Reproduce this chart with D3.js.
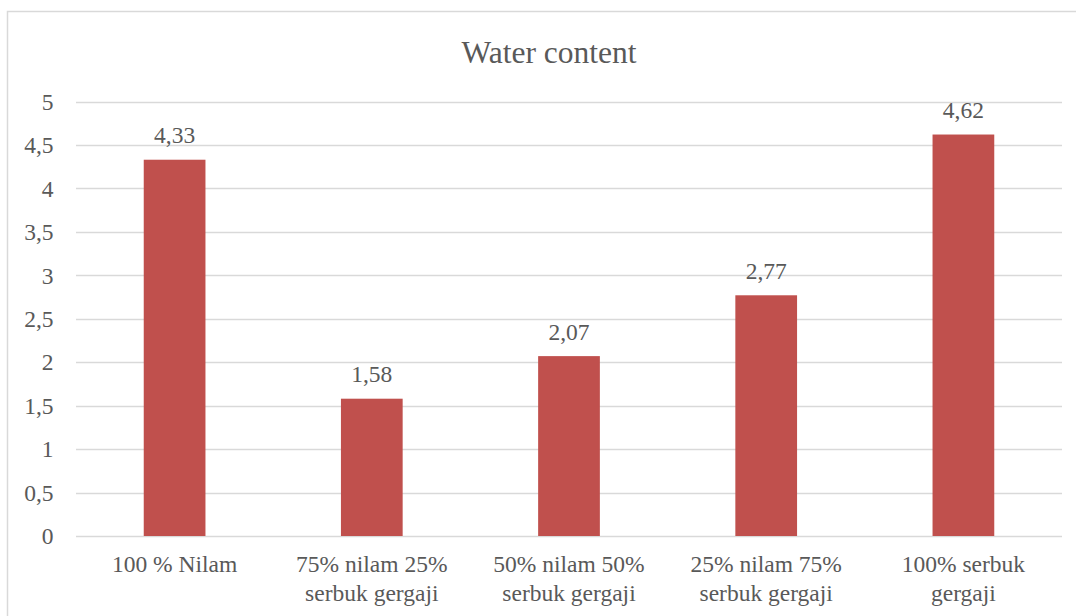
<!DOCTYPE html>
<html>
<head>
<meta charset="utf-8">
<script src="https://cdn.jsdelivr.net/npm/d3@7"></script>
<style>
html,body{margin:0;padding:0;background:#fff;}
svg{display:block;}
</style>
</head>
<body>
<svg id="chart" width="1076" height="616"></svg>
<script>
const categories = [
  ["100 % Nilam"],
  ["75% nilam 25%", "serbuk gergaji"],
  ["50% nilam 50%", "serbuk gergaji"],
  ["25% nilam 75%", "serbuk gergaji"],
  ["100% serbuk", "gergaji"]
];
const values = [4.33, 1.58, 2.07, 2.77, 4.62];
const valueLabels = ["4,33", "1,58", "2,07", "2,77", "4,62"];
const yTicks = [0, 0.5, 1, 1.5, 2, 2.5, 3, 3.5, 4, 4.5, 5];
const yTickLabels = ["0", "0,5", "1", "1,5", "2", "2,5", "3", "3,5", "4", "4,5", "5"];
const title = "Water content";

(function () {
const FONT = "Liberation Serif";
const TXT = "#595959";
const svg = d3.select("#chart");
const W = 1076, H = 616;
svg.append("rect").attr("width", W).attr("height", H).attr("fill", "#fff");

// chart area border (only top & left visible)
svg.append("rect")
  .attr("x", 7.5).attr("y", 11.5)
  .attr("width", 1090).attr("height", 640)
  .attr("fill", "none").attr("stroke", "#D9D9D9").attr("stroke-width", 1.5);

const pLeft = 76, pRight = 1062, pTop = 101.5, pBottom = 536;
const x = d3.scaleBand().domain(d3.range(categories.length)).range([pLeft, pRight]).paddingInner(0).paddingOuter(0);
const y = d3.scaleLinear().domain([0, 5]).range([pBottom, pTop]);

function styleText(sel, size) {
  return sel.style("font-family", FONT).style("font-size", size + "px").style("fill", TXT);
}

// gridlines
svg.append("g").selectAll("line").data(yTicks).join("line")
  .attr("x1", pLeft).attr("x2", pRight)
  .attr("y1", d => Math.round(y(d)) + 0.5).attr("y2", d => Math.round(y(d)) + 0.5)
  .attr("stroke", "#D9D9D9").attr("stroke-width", 1.3);

// y tick labels
styleText(svg.append("g").selectAll("text").data(yTicks).join("text")
  .attr("x", 53.5).attr("y", d => y(d))
  .attr("dy", "0.35em")
  .attr("text-anchor", "end")
  .text((d, i) => yTickLabels[i]), 23.5);

// bars
const barW = x.bandwidth() * 0.313;
svg.append("g").selectAll("rect").data(values).join("rect")
  .attr("x", (d, i) => x(i) + x.bandwidth() / 2 - barW / 2)
  .attr("width", barW)
  .attr("y", d => y(d))
  .attr("height", d => y(0) - y(d))
  .attr("fill", "#C0504D");

// value labels
styleText(svg.append("g").selectAll("text").data(values).join("text")
  .attr("x", (d, i) => x(i) + x.bandwidth() / 2)
  .attr("y", d => y(d) - 16.5)
  .attr("text-anchor", "middle")
  .text((d, i) => valueLabels[i]), 23.5);

// category labels
const cat = styleText(svg.append("g").selectAll("text").data(categories).join("text")
  .attr("x", (d, i) => x(i) + x.bandwidth() / 2)
  .attr("y", 572)
  .attr("text-anchor", "middle"), 23.5);
cat.each(function (lines, i) {
  const t = d3.select(this);
  lines.forEach((ln, j) => {
    t.append("tspan")
      .attr("x", x(i) + x.bandwidth() / 2)
      .attr("y", 572 + j * 28.5)
      .text(ln);
  });
});

// title
styleText(svg.append("text")
  .attr("x", 549).attr("y", 62.5)
  .attr("text-anchor", "middle")
  .text(title), 31.5);
})();
</script>
</body>
</html>
